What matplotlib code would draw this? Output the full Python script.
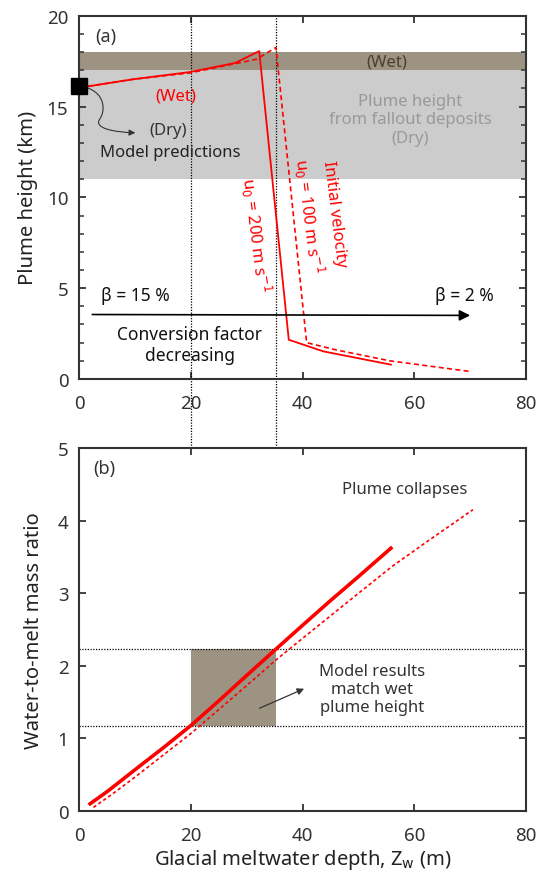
import numpy as np
import matplotlib.pyplot as plt
from matplotlib.ticker import MultipleLocator
from matplotlib.path import Path
from matplotlib.patches import FancyArrowPatch

plt.rcParams['font.family'] = ['Noto Sans', 'DejaVu Sans']

# panel (a): plume height vs meltwater depth
a_solid_x = [0, 1.3, 9.6, 19.8, 27.9, 32.2, 37.5, 43.7, 55.8]
a_solid_y = [16.1, 16.1, 16.5, 16.9, 17.4, 18.05, 2.16, 1.52, 0.79]
a_dash_x = [0, 1.3, 9.6, 19.8, 31.7, 35.2, 40.7, 46.0, 55.6, 70.3]
a_dash_y = [16.1, 16.1, 16.5, 16.85, 17.6, 18.25, 2.0, 1.6, 1.0, 0.4]

# panel (b): water-to-melt mass ratio
b_solid_x = [1.9, 5, 10.8, 15, 20, 25, 30, 35.2, 40, 45, 50, 55.8]
b_solid_y = [0.1, 0.27, 0.62, 0.87, 1.18, 1.52, 1.87, 2.23, 2.56, 2.9, 3.23, 3.62]
b_dash_x = [2.5, 6, 10, 15, 20, 25, 30, 35.2, 40, 45, 50, 56.2, 63, 70.5]
b_dash_y = [0.05, 0.24, 0.47, 0.77, 1.07, 1.4, 1.73, 2.08, 2.38, 2.69, 3.0, 3.38, 3.75, 4.15]

wet_band = (17.0, 18.0)
dry_band = (11.0, 17.0)
match_x = (20, 35.2)
match_y = (1.17, 2.23)
model_point = (0, 16.15)

red = '#ff0000'
brown = '#9d9382'
gray = '#cccccc'
dark = '#333333'
dot = (0, (1, 1.2))

fig = plt.figure(figsize=(5.36, 8.79), dpi=100)
ax1 = fig.add_axes([0.1483, 0.5677, 0.833, 0.4133])
ax2 = fig.add_axes([0.1483, 0.0762, 0.833, 0.413])

for ax in (ax1, ax2):
    ax.set_xlim(0, 80)
    ax.set_xticks([0, 20, 40, 60, 80])
    ax.tick_params(direction='in', top=True, right=True, labelsize=13.5,
                   width=1.3, length=5, color=dark, labelcolor=dark)
    ax.tick_params(axis='x', pad=11)
    ax.tick_params(axis='y', pad=8)
    for s in ax.spines.values():
        s.set_linewidth(1.5)
        s.set_color(dark)

# ---- panel (a)
ax1.set_ylim(0, 20)
ax1.set_yticks([0, 5, 10, 15, 20])
ax1.yaxis.set_minor_locator(MultipleLocator(1))
ax1.tick_params(axis='y', which='minor', direction='in', left=True, right=True,
                width=1.1, length=3.5, color=dark)
ax1.axhspan(*dry_band, color=gray, lw=0, zorder=0)
ax1.axhspan(*wet_band, color=brown, lw=0, zorder=0)
ax1.plot(a_solid_x, a_solid_y, color=red, lw=1.3, zorder=3)
ax1.plot(a_dash_x, a_dash_y, color=red, lw=1.2, ls=(0, (3, 2)), zorder=3)
ax1.plot(*model_point, 's', color='k', ms=11, clip_on=False, zorder=5)

# dotted verticals running through both panels
pa, pb = ax1.get_position(), ax2.get_position()
ymin = (pb.y0 - pa.y0) / pa.height
for xv in match_x:
    ax1.axvline(xv, ymin=ymin, ymax=1, color='k', lw=0.9, ls=dot, clip_on=False, zorder=2)

ax1.text(2.8, 18.9, '(a)', fontsize=13, color=dark, va='center')
ax1.text(55, 17.5, '(Wet)', fontsize=12, color='#4a3f30', ha='center', va='center')
ax1.text(17.3, 15.6, '(Wet)', fontsize=12, color=red, ha='center', va='center')
ax1.text(15.9, 13.7, '(Dry)', fontsize=12, color=dark, ha='center', va='center')
ax1.text(16.2, 12.5, 'Model predictions', fontsize=12, color='#222222', ha='center', va='center')
ax1.text(59.2, 14.3, 'Plume height\nfrom fallout deposits\n(Dry)', fontsize=12,
         color='#999999', ha='center', va='center', linespacing=1.2)

# wiggly pointer from the model marker to the "(Dry)" label
verts = [(1.2, 16.05), (4.8, 15.7), (4.6, 14.7), (3.6, 14.3),
         (2.6, 13.8), (6.0, 13.6), (10.0, 13.55)]
codes = [Path.MOVETO] + [Path.CURVE4] * 6
ax1.add_patch(FancyArrowPatch(path=Path(verts, codes), arrowstyle='-|>',
                              color=dark, lw=0.8, mutation_scale=9, zorder=4))

ax1.text(31.5, 8.0, 'u$_0$ = 200 m s$^{-1}$', fontsize=12, color=red,
         rotation=-83, ha='center', va='center')
ax1.text(41.0, 9.0, 'u$_0$ = 100 m s$^{-1}$', fontsize=12, color=red,
         rotation=-83, ha='center', va='center')
ax1.text(45.6, 9.15, 'Initial velocity', fontsize=12, color=red,
         rotation=-83, ha='center', va='center')

ax1.annotate('', xy=(70.5, 3.5), xytext=(1.8, 3.55),
             arrowprops=dict(arrowstyle='-|>', color='k', lw=1.2, mutation_scale=16))
ax1.text(10, 4.6, 'β = 15 %', fontsize=12.5, color='#111111', ha='center', va='center')
ax1.text(68.9, 4.6, 'β = 2 %', fontsize=12.5, color='#111111', ha='center', va='center')
ax1.text(19.8, 1.9, 'Conversion factor\ndecreasing', fontsize=12.5, color='#111111',
         ha='center', va='center', linespacing=1.25)
ax1.set_ylabel('Plume height (km)', fontsize=14.5, color='#222222', labelpad=6)

# ---- panel (b)
ax2.set_ylim(0, 5)
ax2.set_yticks([0, 1, 2, 3, 4, 5])
for yv in match_y:
    ax2.axhline(yv, color='k', lw=0.9, ls=dot, zorder=2)
ax2.fill_between(match_x, match_y[0], match_y[1], color=brown, lw=0, zorder=1)
ax2.plot(b_solid_x, b_solid_y, color=red, lw=2.6, zorder=3)
ax2.plot(b_dash_x, b_dash_y, color=red, lw=1.2, ls=(0, (2, 1.6)), zorder=3)

ax2.text(2.5, 4.72, '(b)', fontsize=13, color=dark, va='center')
ax2.text(58.3, 4.43, 'Plume collapses', fontsize=12, color=dark, ha='center', va='center')
ax2.text(52.4, 1.68, 'Model results\nmatch wet\nplume height', fontsize=12,
         color=dark, ha='center', va='center', linespacing=1.2)
ax2.annotate('', xy=(40.7, 1.7), xytext=(31.8, 1.4),
             arrowprops=dict(arrowstyle='-|>', color=dark, lw=0.9, mutation_scale=10))
ax2.set_ylabel('Water-to-melt mass ratio', fontsize=14.5, color='#222222', labelpad=10)
ax2.set_xlabel('Glacial meltwater depth, Z$_\\mathrm{w}$ (m)', fontsize=14.5,
               color='#222222', labelpad=2)

fig.savefig('out.png', dpi=100)
